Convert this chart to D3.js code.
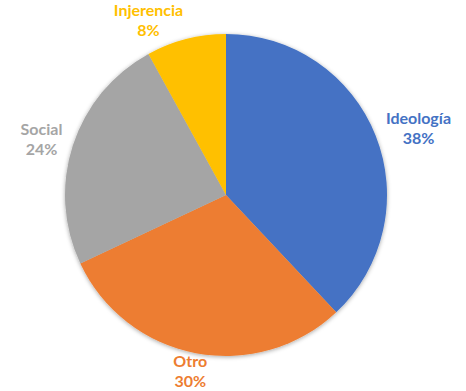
<!DOCTYPE html>
<html><head><meta charset="utf-8">
<script src="https://cdn.jsdelivr.net/npm/d3@7"></script>
<style>html,body{margin:0;padding:0;background:#fff;}</style>
</head><body>
<svg id="chart" width="466" height="391"></svg>
<script>
const categories = ["Ideología", "Otro", "Social", "Injerencia"];
const values = [38, 30, 24, 8];
const colors = ["#4472C4", "#ED7D31", "#A5A5A5", "#FFC000"];

const W = 466, H = 391;
const cx = 226, cy = 195, r = 161;
const svg = d3.select("#chart");
const defs = svg.append("defs");
const f = defs.append("filter").attr("id","sh").attr("x","-20%").attr("y","-20%").attr("width","140%").attr("height","140%");
f.append("feDropShadow").attr("dx",0).attr("dy",1).attr("stdDeviation",2.2).attr("flood-color","#000").attr("flood-opacity",0.35);

const data = categories.map((c,i)=>({cat:c, value:values[i], color:colors[i]}));
const pie = d3.pie().value(d=>d.value).sort(null);
const arcs = pie(data);
const arc = d3.arc().innerRadius(0).outerRadius(r);
const g = svg.append("g").attr("transform",`translate(${cx},${cy})`);
g.append("g").attr("filter","url(#sh)")
  .selectAll("path").data(arcs).join("path")
  .attr("d",arc).attr("fill",d=>d.data.color);

const total = d3.sum(values);
const lineH = 20;
const labels = g.selectAll("g.lab").data(arcs).join("g").attr("class","lab");
labels.each(function(d){
  const sel = d3.select(this);
  const t = sel.append("text")
    .attr("text-anchor","middle")
    .attr("font-family","Lato, 'Open Sans', sans-serif")
    .attr("font-weight","bold")
    .attr("font-size","16px")
    .attr("fill",d.data.color);
  t.append("tspan").attr("x",0).attr("dy",0).text(d.data.cat);
  t.append("tspan").attr("x",0).attr("dy",lineH).text(Math.round(d.data.value/total*100)+"%");
  const bb = t.node().getBBox();
  const a = (d.startAngle+d.endAngle)/2;
  const sx = Math.sin(a), sy = -Math.cos(a);
  const w = bb.width, h = 38;
  const p = [sx*r, sy*r];
  let lx;
  if (sy < 0) lx = p[0] + Math.sign(sx)*w/2 + sx*11;
  else lx = p[0] + sx*(w/2 + 13);
  const ly = p[1] + sy*h/2;
  t.attr("transform",`translate(${lx},${ly - lineH/2 + 5.5})`);
});
</script>
</body></html>
